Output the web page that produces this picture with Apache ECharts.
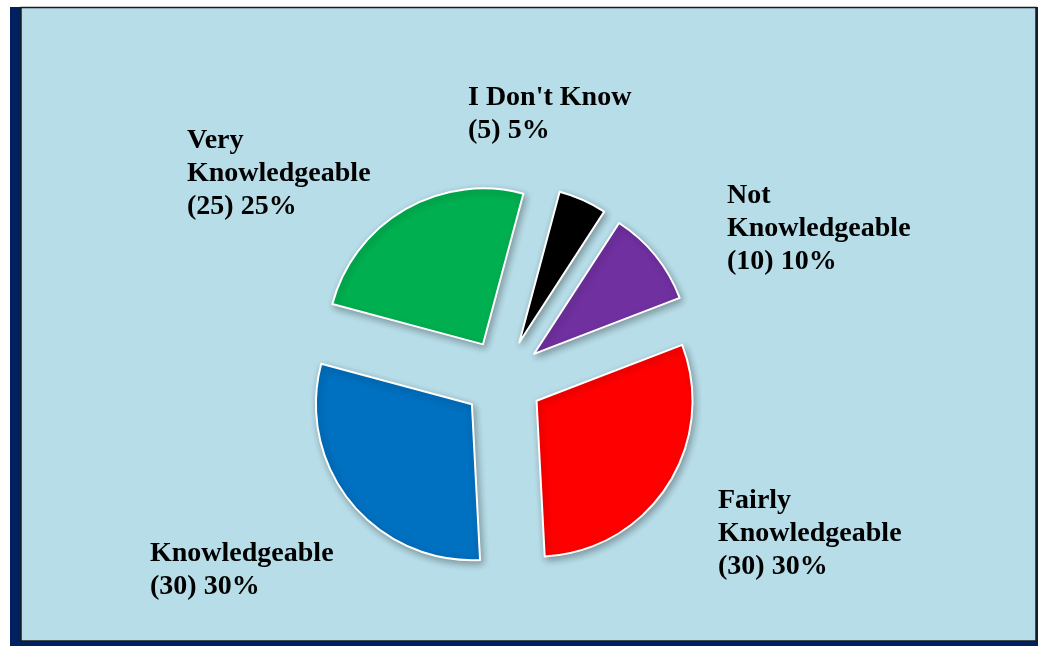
<!DOCTYPE html>
<html>
<head>
<meta charset="utf-8">
<style>
  html, body { margin: 0; padding: 0; background: #ffffff; }
  #chart { width: 1038px; height: 646px; }
</style>
<script src="https://cdn.jsdelivr.net/npm/echarts@6/dist/echarts.min.js"></script>
</head>
<body>
<div id="chart"></div>
<script>
// Survey answers, clockwise from just past 12 o'clock
const categories = ["I Don't Know", "Not\nKnowledgeable", "Fairly\nKnowledgeable", "Knowledgeable", "Very\nKnowledgeable"];
const counts = [5, 10, 30, 30, 25];
const sliceColors = ['#000000', '#7030a0', '#ff0000', '#0070c0', '#00b050'];

// Top-left corner of each text block
const labelSpots = [[468, 81], [727, 179], [718, 484], [150, 537], [187, 124]];

const total = counts.reduce((a, b) => a + b, 0);
const labelFont = {
  fontFamily: '"Liberation Serif", "Times New Roman", serif',
  fontWeight: 'bold',
  fontSize: 28,
  lineHeight: 33,
  fill: '#000000'
};

const chart = echarts.init(document.getElementById('chart'), null, { renderer: 'canvas' });

const pieData = categories.map((name, i) => ({
  name: name,
  value: counts[i],
  selected: true,
  itemStyle: { color: sliceColors[i] }
}));

const labelTexts = categories.map((name, i) => ({
  type: 'text',
  z: 10,
  x: labelSpots[i][0],
  y: labelSpots[i][1],
  style: Object.assign({
    text: name + '\n(' + counts[i] + ') ' + Math.round(counts[i] / total * 100) + '%',
    align: 'left',
    verticalAlign: 'top'
  }, labelFont)
}));

chart.setOption({
  animation: false,
  backgroundColor: '#ffffff',
  graphic: [
    { type: 'rect', z: -10, shape: { x: 10, y: 7, width: 1028, height: 639 }, style: { fill: '#002060' } },
    { type: 'rect', z: -9, shape: { x: 21, y: 7.5, width: 1015, height: 633.5 }, style: { fill: '#b7dde8', stroke: '#1b1b1b', lineWidth: 1.5 } }
  ].concat(labelTexts),
  series: [{
    type: 'pie',
    center: [503, 379],
    radius: [0, 156],
    startAngle: 75,
    clockwise: true,
    selectedMode: 'multiple',
    selectedOffset: 40,
    emphasis: { disabled: true },
    itemStyle: {
      borderColor: '#ffffff',
      borderWidth: 2,
      shadowBlur: 7,
      shadowOffsetX: 2,
      shadowOffsetY: 3,
      shadowColor: 'rgba(0,0,0,0.3)'
    },
    label: { show: false },
    labelLine: { show: false },
    data: pieData
  }]
});
</script>
</body>
</html>
